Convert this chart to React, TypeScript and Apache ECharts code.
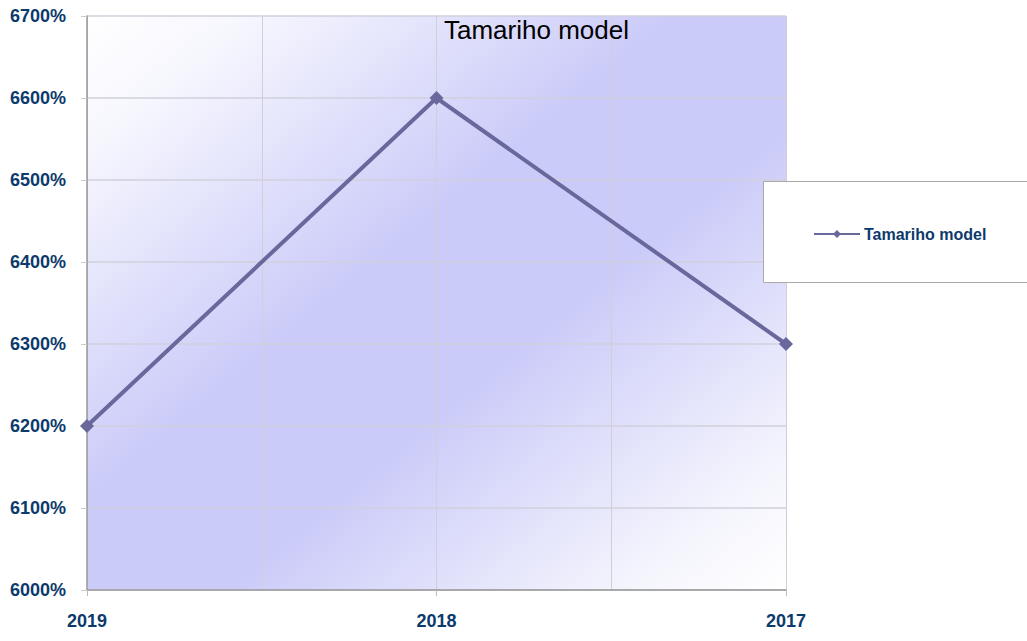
import React, { useEffect, useRef } from "react";
import * as echarts from "echarts";

const categories = ["2019", "2018", "2017"];
const values = [6200, 6600, 6300];
const seriesName = "Tamariho model";
const yMin = 6000;
const yMax = 6700;
const yStep = 100;

export default function App() {
  const ref = useRef<HTMLDivElement>(null);
  useEffect(() => {
    const chart = echarts.init(ref.current!, null, { renderer: "svg" });
    const navy = "#0c3a6c";
    chart.setOption({
      animation: false,
      backgroundColor: "#ffffff",
      title: {
        text: seriesName,
        left: 439,
        top: 12,
        textStyle: { fontFamily: "Liberation Sans, Arial", fontSize: 26, fontWeight: "normal", color: "#000" },
        z: 10,
      },
      legend: {
        left: 808,
        top: 221,
        itemWidth: 46,
        itemHeight: 10,
        itemGap: 5,
        textStyle: { fontFamily: "Liberation Sans, Arial", fontSize: 16, fontWeight: "bold", color: navy, padding: [0, 0, 0, -1] },
        data: [seriesName],
        z: 20,
      },
      graphic: [
        {
          type: "rect",
          left: 763,
          top: 181,
          shape: { width: 280, height: 101 },
          style: { fill: "#fff", stroke: "#aaaaaa", lineWidth: 1 },
          z: 15,
        },
      ],
      grid: { left: 87, right: 241, top: 16, bottom: 51, show: true, borderWidth: 0,
        backgroundColor: new echarts.graphic.LinearGradient(0, 0, 1, 1, [
          { offset: 0, color: "#ffffff" },
          { offset: 0.12, color: "#f6f6fe" },
          { offset: 0.42, color: "#cbcbf9" },
          { offset: 0.6, color: "#cbcbf9" },
          { offset: 0.88, color: "#f4f4fd" },
          { offset: 1, color: "#ffffff" },
        ]) },
      xAxis: [
        {
          type: "category",
          data: categories,
          boundaryGap: false,
          axisLine: { lineStyle: { color: "#999", width: 1.5 } },
          axisTick: { show: true, length: 6, lineStyle: { color: "#bbb" } },
          axisLabel: { margin: 22, fontFamily: "Liberation Sans, Arial", fontSize: 18, fontWeight: "bold", color: navy },
          splitLine: { show: false },
        },
        {
          type: "value",
          min: 0,
          max: 2,
          interval: 0.5,
          position: "bottom",
          axisLine: { show: false },
          axisTick: { show: false },
          axisLabel: { show: false },
          splitLine: { show: true, lineStyle: { color: "#cfcfd8", width: 1 } },
        },
      ],
      yAxis: {
        type: "value",
        min: yMin,
        max: yMax,
        interval: yStep,
        axisLine: { show: true, lineStyle: { color: "#999", width: 1.5 } },
        axisTick: { show: true, length: 6, lineStyle: { color: "#ccc" } },
        axisLabel: {
          margin: 21,
          fontFamily: "Liberation Sans, Arial",
          fontSize: 18,
          fontWeight: "bold",
          color: navy,
          formatter: (v: number) => v + "%",
        },
        splitLine: { show: true, lineStyle: { color: "#d0d0dc", width: 1.5 } },
      },
      series: [
        {
          name: seriesName,
          type: "line",
          xAxisIndex: 0,
          data: values,
          symbol: "diamond",
          symbolSize: 14,
          itemStyle: { color: "#68689c" },
          lineStyle: { color: "#68689c", width: 4 },
        },
      ],
    });
    return () => chart.dispose();
  }, []);
  return <div ref={ref} style={{ width: 1027, height: 641, position: "absolute", left: 0, top: 0 }} />;
}
